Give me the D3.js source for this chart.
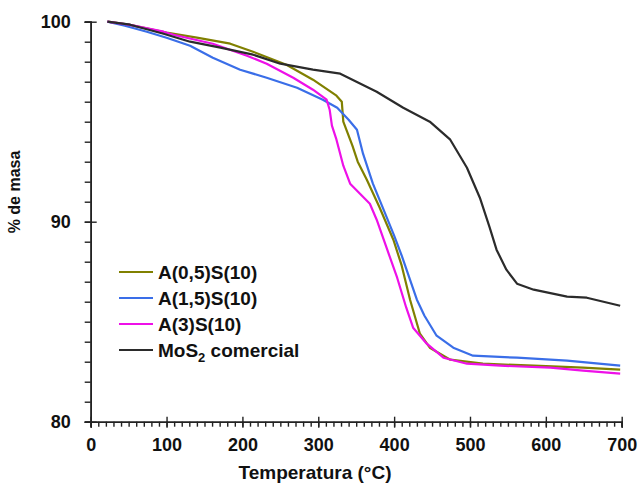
<!DOCTYPE html>
<html>
<head>
<meta charset="utf-8">
<script src="https://cdn.jsdelivr.net/npm/d3@7"></script>
<style>
  body { margin: 0; background: #fff; }
  svg { display: block; font-family: "Liberation Sans", Arial, sans-serif; }
</style>
</head>
<body>
<div id="chart"></div>
<script>
// temperature (°C) and mass (%)
var olive = [[22,100],[50,99.85],[100,99.45],[140,99.2],[184,98.9],[214,98.5],[258,97.85],[293,97.1],[324,96.3],[331,96.0],[333,95.0],[337,94.6],[345,93.8],[352,93.0],[364,92.1],[381,90.7],[399,89.1],[410,87.8],[421,86.1],[434,84.4],[447,83.7],[474,83.1],[517,82.9],[584,82.8],[649,82.7],[698,82.6]];
var blue = [[22,100],[45,99.8],[74,99.5],[100,99.2],[131,98.8],[161,98.2],[197,97.6],[232,97.2],[272,96.7],[306,96.1],[325,95.7],[340,95.1],[351,94.6],[359,93.4],[372,91.9],[385,90.7],[400,89.3],[410,88.3],[420,87.2],[430,86.1],[440,85.3],[456,84.3],[478,83.7],[504,83.3],[562,83.2],[628,83.05],[698,82.8]];
var magenta = [[22,100],[50,99.85],[96,99.5],[109,99.35],[161,98.9],[206,98.3],[232,97.9],[267,97.2],[293,96.6],[311,96.1],[315,95.6],[318,94.8],[324,94.1],[333,92.8],[342,91.9],[355,91.4],[368,90.9],[377,90.1],[390,88.7],[404,87.2],[416,85.7],[425,84.7],[443,83.9],[465,83.2],[496,82.9],[540,82.8],[606,82.7],[649,82.55],[698,82.4]];
var black = [[22,100],[52,99.85],[96,99.4],[131,99.0],[171,98.7],[214,98.35],[250,97.9],[293,97.6],[329,97.4],[377,96.5],[412,95.7],[447,95.0],[474,94.1],[496,92.7],[513,91.2],[526,89.7],[535,88.6],[548,87.6],[562,86.9],[584,86.6],[628,86.25],[654,86.2],[698,85.8]];

var seriesNames = ["A(0,5)S(10)", "A(1,5)S(10)", "A(3)S(10)", "MoS2 comercial"];
var seriesData = [olive, blue, magenta, black];
var colors = ["#808000", "#3a6ee8", "#ee10e8", "#2b2b2b"];

var xTicks = [0, 100, 200, 300, 400, 500, 600, 700];
var yTicks = [80, 90, 100];

var width = 639, height = 483;
var svg = d3.select('#chart').append('svg')
	.attr('width', width).attr('height', height);

var x = d3.scaleLinear().domain([0, 700]).range([90.7, 621.7]);
var y = d3.scaleLinear().domain([80, 100]).range([421.7, 21.7]);

var axisColor = "#222";

// minor ticks
var gx = svg.append('g').attr('transform', 'translate(0,' + y(80) + ')');
gx.call(d3.axisBottom(x).tickValues(d3.range(0, 701, 10)).tickSize(5).tickFormat(''));
var gxMajor = svg.append('g').attr('transform', 'translate(0,' + y(80) + ')');
gxMajor.call(d3.axisBottom(x).tickValues(xTicks).tickSize(6).tickPadding(11).tickFormat(d3.format('d')));
gxMajor.selectAll('.tick line').attr('y1', -5);

var gy = svg.append('g').attr('transform', 'translate(' + x(0) + ',0)');
gy.call(d3.axisLeft(y).tickValues(d3.range(80, 100.5, 1)).tickSize(6).tickFormat(''));
var gyMajor = svg.append('g').attr('transform', 'translate(' + x(0) + ',0)');
gyMajor.call(d3.axisLeft(y).tickValues(yTicks).tickSize(6).tickPadding(14).tickFormat(d3.format('d')));
gyMajor.selectAll('.tick line').attr('x1', 6);

svg.selectAll('.domain').attr('stroke', axisColor).attr('stroke-width', 1.6);
svg.selectAll('.tick line').attr('stroke', axisColor).attr('stroke-width', 1.4);
svg.selectAll('.tick text').attr('fill', '#111').style('font-size', '18px').style('font-weight', 'bold');

// curves
var line = d3.line()
	.x(function(d) { return x(d[0]); })
	.y(function(d) { return y(d[1]); });

svg.selectAll('path.curve').data(seriesData).enter().append('path')
	.attr('class', 'curve')
	.attr('d', line)
	.attr('fill', 'none')
	.attr('stroke', function(d, i) { return colors[i]; })
	.attr('stroke-width', 2.2)
	.attr('stroke-linejoin', 'round');

// axis titles
svg.append('text')
	.attr('x', 315).attr('y', 479)
	.attr('text-anchor', 'middle')
	.style('font-size', '19px').style('font-weight', 'bold').attr('fill', '#111')
	.text('Temperatura (°C)');

svg.append('text')
	.attr('transform', 'translate(20,192) rotate(-90)')
	.attr('text-anchor', 'middle')
	.style('font-size', '16px').style('font-weight', 'bold').attr('fill', '#111')
	.text('% de masa');

// legend
var legend = svg.append('g');
var rows = legend.selectAll('g').data(seriesNames).enter().append('g')
	.attr('transform', function(d, i) { return 'translate(119,' + (272 + i * 26) + ')'; });
rows.append('line')
	.attr('x1', 0).attr('x2', 34).attr('y1', 0).attr('y2', 0)
	.attr('stroke', function(d, i) { return colors[i]; })
	.attr('stroke-width', 2.2);
var labels = rows.append('text')
	.attr('x', 39).attr('y', 7)
	.style('font-size', '19px').style('font-weight', 'bold').attr('fill', '#111');
labels.each(function(d) {
	var t = d3.select(this);
	if (d.indexOf('MoS2') === 0) {
		t.append('tspan').text('MoS');
		t.append('tspan').attr('dy', 5).style('font-size', '13px').text('2');
		t.append('tspan').attr('dy', -5).text(' comercial');
	} else {
		t.text(d);
	}
});
</script>
</body>
</html>
